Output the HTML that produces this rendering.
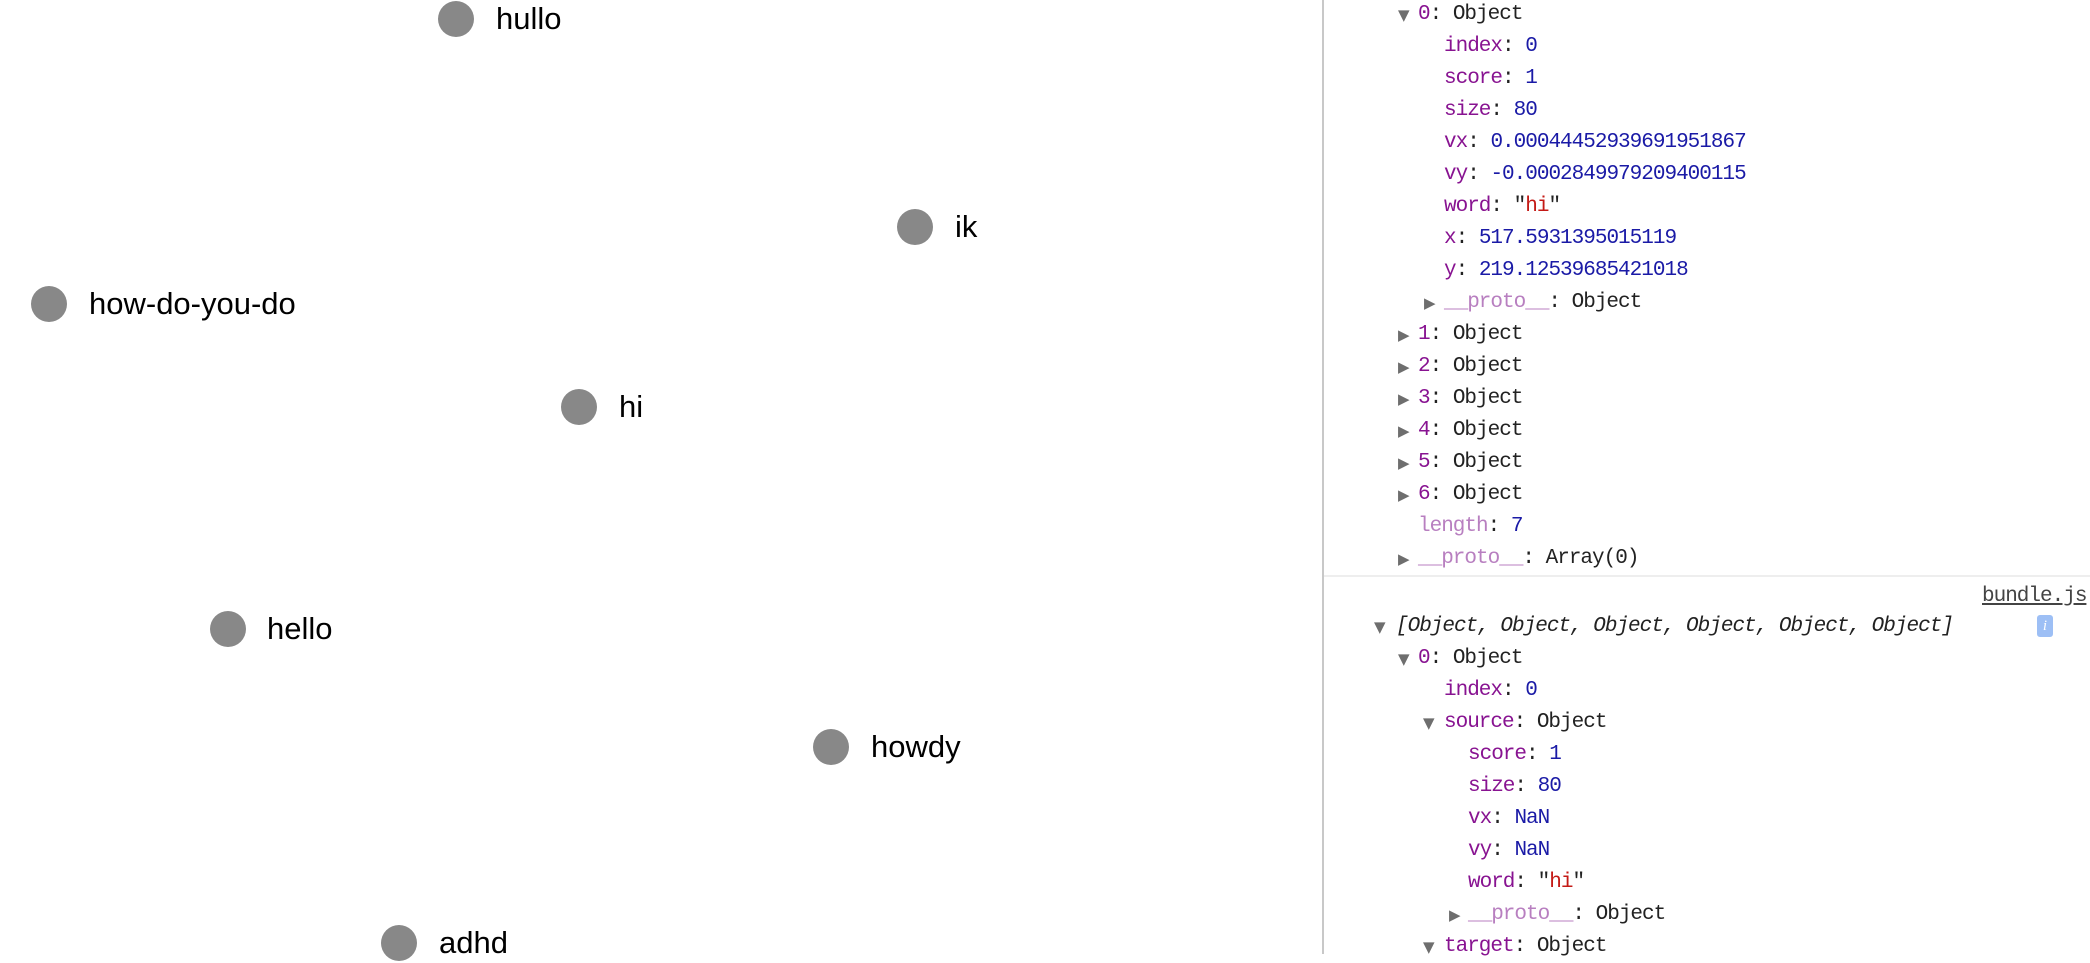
<!DOCTYPE html>
<html><head><meta charset="utf-8"><style>
body{margin:0;width:2090px;height:954px;overflow:hidden;background:#fff;position:relative}
.n{position:absolute;width:36px;height:36px;border-radius:50%;background:#888}
.t{position:absolute;font:31px "Liberation Sans",sans-serif;color:#000;line-height:36px}
.l{position:absolute;font:21px/32px "Liberation Mono",monospace;letter-spacing:-1px;color:#222;white-space:pre;margin-top:3px}
.k{color:#881391}.v{color:#1a1aa6}.s{color:#c41a16}.g{color:#b87fc0}
.tr{position:absolute;color:#6e6e6e;font:15px/32px "DejaVu Sans",sans-serif;margin-top:3px}
</style></head><body>
<div class="n" style="left:438px;top:1px"></div><div class="t" style="left:496px;top:1px">hullo</div>
<div class="n" style="left:897px;top:209px"></div><div class="t" style="left:955px;top:209px">ik</div>
<div class="n" style="left:31px;top:286px"></div><div class="t" style="left:89px;top:286px">how-do-you-do</div>
<div class="n" style="left:561px;top:389px"></div><div class="t" style="left:619px;top:389px">hi</div>
<div class="n" style="left:210px;top:611px"></div><div class="t" style="left:267px;top:611px">hello</div>
<div class="n" style="left:813px;top:729px"></div><div class="t" style="left:871px;top:729px">howdy</div>
<div class="n" style="left:381px;top:925px"></div><div class="t" style="left:439px;top:925px">adhd</div>

<div style="position:absolute;left:1322px;top:0;width:2px;height:954px;background:#c8c8c8"></div>
<div style="position:absolute;left:1324px;top:575px;width:766px;height:2px;background:#eee"></div>

<div class="tr" style="left:1398px;top:-4px">▼</div><div class="l" style="left:1418px;top:-4px"><span class="k">0</span>: Object</div>
<div class="l" style="left:1444px;top:28px"><span class="k">index</span>: <span class="v">0</span></div>
<div class="l" style="left:1444px;top:60px"><span class="k">score</span>: <span class="v">1</span></div>
<div class="l" style="left:1444px;top:92px"><span class="k">size</span>: <span class="v">80</span></div>
<div class="l" style="left:1444px;top:124px"><span class="k">vx</span>: <span class="v">0.00044452939691951867</span></div>
<div class="l" style="left:1444px;top:156px"><span class="k">vy</span>: <span class="v">-0.0002849979209400115</span></div>
<div class="l" style="left:1444px;top:188px"><span class="k">word</span>: "<span class="s">hi</span>"</div>
<div class="l" style="left:1444px;top:220px"><span class="k">x</span>: <span class="v">517.5931395015119</span></div>
<div class="l" style="left:1444px;top:252px"><span class="k">y</span>: <span class="v">219.12539685421018</span></div>
<div class="tr" style="left:1424px;top:284px">▶</div><div class="l" style="left:1444px;top:284px"><span class="g">__proto__</span>: Object</div>
<div class="tr" style="left:1398px;top:316px">▶</div><div class="l" style="left:1418px;top:316px"><span class="k">1</span>: Object</div>
<div class="tr" style="left:1398px;top:348px">▶</div><div class="l" style="left:1418px;top:348px"><span class="k">2</span>: Object</div>
<div class="tr" style="left:1398px;top:380px">▶</div><div class="l" style="left:1418px;top:380px"><span class="k">3</span>: Object</div>
<div class="tr" style="left:1398px;top:412px">▶</div><div class="l" style="left:1418px;top:412px"><span class="k">4</span>: Object</div>
<div class="tr" style="left:1398px;top:444px">▶</div><div class="l" style="left:1418px;top:444px"><span class="k">5</span>: Object</div>
<div class="tr" style="left:1398px;top:476px">▶</div><div class="l" style="left:1418px;top:476px"><span class="k">6</span>: Object</div>
<div class="l" style="left:1418px;top:508px"><span class="g">length</span>: <span class="v">7</span></div>
<div class="tr" style="left:1398px;top:540px">▶</div><div class="l" style="left:1418px;top:540px"><span class="g">__proto__</span>: Array(0)</div>

<div class="l" style="left:1982px;top:578px;text-decoration:underline;color:#444">bundle.js</div>
<div class="tr" style="left:1374px;top:608px">▼</div><div class="l" style="left:1396px;top:608px;font-style:italic">[Object, Object, Object, Object, Object, Object]</div>
<div style="position:absolute;left:2037px;top:615px;width:16px;height:22px;background:#9dbff5;border-radius:3px;color:#fff;font:italic 15px/22px 'Liberation Serif',serif;text-align:center">i</div>
<div class="tr" style="left:1398px;top:640px">▼</div><div class="l" style="left:1418px;top:640px"><span class="k">0</span>: Object</div>
<div class="l" style="left:1444px;top:672px"><span class="k">index</span>: <span class="v">0</span></div>
<div class="tr" style="left:1423px;top:704px">▼</div><div class="l" style="left:1444px;top:704px"><span class="k">source</span>: Object</div>
<div class="l" style="left:1468px;top:736px"><span class="k">score</span>: <span class="v">1</span></div>
<div class="l" style="left:1468px;top:768px"><span class="k">size</span>: <span class="v">80</span></div>
<div class="l" style="left:1468px;top:800px"><span class="k">vx</span>: <span class="v">NaN</span></div>
<div class="l" style="left:1468px;top:832px"><span class="k">vy</span>: <span class="v">NaN</span></div>
<div class="l" style="left:1468px;top:864px"><span class="k">word</span>: "<span class="s">hi</span>"</div>
<div class="tr" style="left:1449px;top:896px">▶</div><div class="l" style="left:1468px;top:896px"><span class="g">__proto__</span>: Object</div>
<div class="tr" style="left:1423px;top:928px">▼</div><div class="l" style="left:1444px;top:928px"><span class="k">target</span>: Object</div>
</body></html>
